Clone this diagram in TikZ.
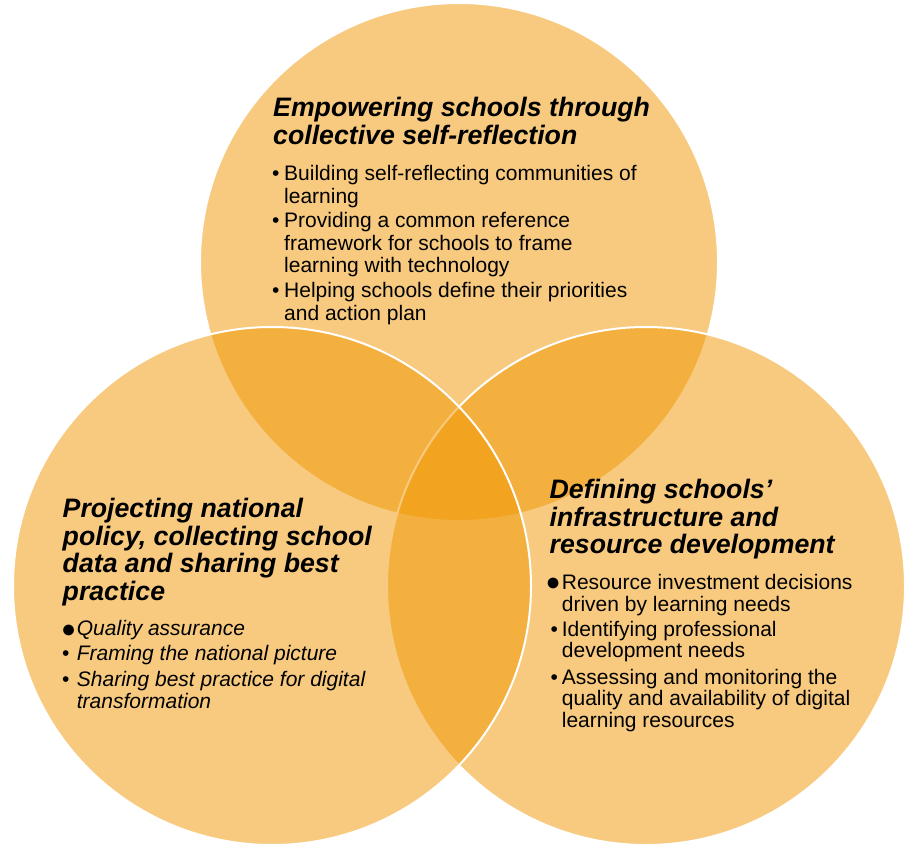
\documentclass[tikz,border=0pt]{standalone}
\usepackage{fontspec}
\setmainfont{Liberation Sans}
\definecolor{venn}{RGB}{240,150,0}
\begin{document}
\begin{tikzpicture}[x=1pt,y=-1pt,
  ring/.style={fill=venn, fill opacity=0.5, draw=white, line width=2pt},
  ttl/.style={anchor=base west, inner sep=0pt, font=\fontsize{26.7}{27.4}\selectfont\bfseries\itshape},
  txt/.style={anchor=base west, inner sep=0pt, font=\fontsize{21}{22}\selectfont},
  bigdot/.style={anchor=base west, inner sep=0pt, font=\fontsize{25}{26}\selectfont},
  itx/.style={anchor=base west, inner sep=0pt, font=\fontsize{21}{22}\selectfont\itshape}]
\useasboundingbox (0,0) rectangle (904,848);
% circles: top, right, left
\draw[ring] (459,262) circle[radius=259pt];
\draw[ring] (646,586) circle[radius=259pt];
\draw[ring] (272,586) circle[radius=259pt];
% top circle text
\node[ttl] (t1) at (273,116.7) {Empowering schools through};
\node[ttl] (t2) at (273,144) {collective self-reflection};
\node[txt] (tb1) at (272,180.7) {•};
\node[txt] (tl1) at (284,180.7) {Building self-reflecting communities of};
\node[txt] (tl2) at (284,203) {learning};
\node[txt] (tb2) at (272,227.7) {•};
\node[txt] (tl3) at (284,227.7) {Providing a common reference};
\node[txt] (tl4) at (284,250) {framework for schools to frame};
\node[txt] (tl5) at (284,272.7) {learning with technology};
\node[txt] (tb3) at (272,297.3) {•};
\node[txt] (tl6) at (284,297.3) {Helping schools define their priorities};
\node[txt] (tl7) at (284,320) {and action plan};
% left circle text
\node[ttl] (l1) at (62.5,517.3) {Projecting national};
\node[ttl] (l2) at (62.5,545) {policy, collecting school};
\node[ttl] (l3) at (62.5,572.7) {data and sharing best};
\node[ttl] (l4) at (62.5,600) {practice};
\node[bigdot] (lb1) at (60.8,637.5) {●};
\node[itx] (ll1) at (76.7,635.7) {Quality assurance};
\node[txt] (lb2) at (62,660.7) {•};
\node[itx] (ll2) at (76.7,660.7) {Framing the national picture};
\node[txt] (lb3) at (62,686.7) {•};
\node[itx] (ll3) at (76.7,686.7) {Sharing best practice for digital};
\node[itx] (ll4) at (76.7,708.3) {transformation};
% right circle text
\node[ttl] (r1) at (549.5,498.3) {Defining schools’};
\node[ttl] (r2) at (549.5,526) {infrastructure and};
\node[ttl] (r3) at (549.5,553.3) {resource development};
\node[bigdot] (rb1) at (545.3,590.3) {●};
\node[txt] (rl1) at (561.7,589.3) {Resource investment decisions};
\node[txt] (rl2) at (561.7,611.3) {driven by learning needs};
\node[txt] (rb2) at (550.5,636) {•};
\node[txt] (rl3) at (561.7,636) {Identifying professional};
\node[txt] (rl4) at (561.7,657.7) {development needs};
\node[txt] (rb3) at (550.5,684) {•};
\node[txt] (rl5) at (561.7,684) {Assessing and monitoring the};
\node[txt] (rl6) at (561.7,705.7) {quality and availability of digital};
\node[txt] (rl7) at (561.7,727.3) {learning resources};
\end{tikzpicture}
\end{document}
